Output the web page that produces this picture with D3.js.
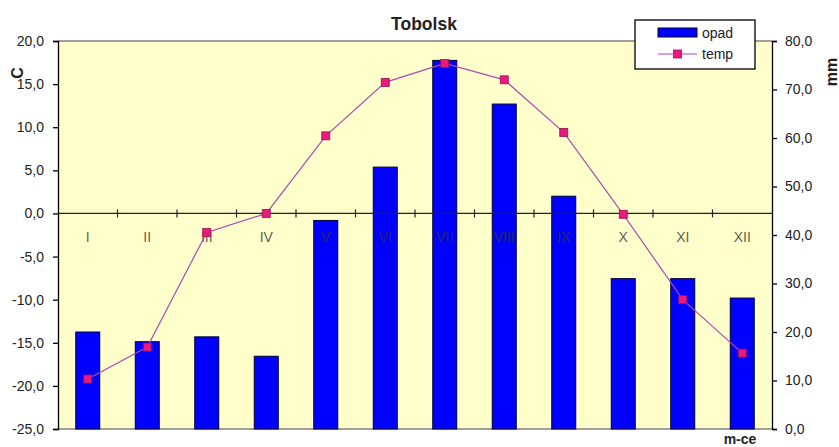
<!DOCTYPE html>
<html><head><meta charset="utf-8">
<script src="https://cdn.jsdelivr.net/npm/d3@7"></script>
<style>body{margin:0;background:#fff}svg{display:block;font-family:Arial,"Liberation Sans",sans-serif}</style>
</head><body>
<svg id="c" width="839" height="447"></svg>
<script>
const months = ["I","II","III","IV","V","VI","VII","VIII","IX","X","XI","XII"];
const opad = [20, 18, 19, 15, 43, 54, 76, 67, 48, 31, 31, 27];
const temp = [-19.2, -15.5, -2.2, 0.0, 9.0, 15.2, 17.4, 15.5, 9.4, -0.1, -10.0, -16.2];
const leftTicks = [20,15,10,5,0,-5,-10,-15,-20,-25];
const rightTicks = [0,10,20,30,40,50,60,70,80];

const svg = d3.select("#c");
const L = 58, R = 772, T = 41, B = 429;
const xb = d3.scaleBand().domain(months).range([L, R]);
const yL = d3.scaleLinear().domain([-25, 20]).range([B, T]);
const yR = d3.scaleLinear().domain([0, 80]).range([B, T]);
const fmt = v => d3.format(".1f")(v).replace(".", ",").replace("−","-");
const FF = "Arial,'Liberation Sans',sans-serif";

svg.append("rect").attr("x", L).attr("y", T).attr("width", R - L).attr("height", B - T).attr("fill", "#ffffcc");
svg.append("line").attr("x1", L).attr("x2", R).attr("y1", T).attr("y2", T).attr("stroke", "#808080").attr("stroke-width", 1.3);
svg.append("line").attr("x1", L).attr("x2", R).attr("y1", B).attr("y2", B).attr("stroke", "#808080").attr("stroke-width", 1.3);

// category labels (behind bars' overlay)
const y0 = yL(0);
// bars
svg.append("g").selectAll("rect").data(opad).join("rect")
  .attr("x", (d, i) => xb(months[i]) + xb.bandwidth() / 2 - 12)
  .attr("width", 24)
  .attr("y", d => yR(d)).attr("height", d => yR(0) - yR(d))
  .attr("fill", "#0000ff").attr("stroke", "#000033").attr("stroke-width", 1);

svg.append("g").selectAll("text").data(months).join("text")
  .attr("x", d => xb(d) + xb.bandwidth() / 2).attr("y", y0 + 29)
  .attr("text-anchor", "middle").attr("font-size", 14).attr("fill", "#333").attr("fill-opacity", 0.8).text(d => d);

// zero line with ticks
svg.append("line").attr("x1", L).attr("x2", R).attr("y1", y0).attr("y2", y0).attr("stroke", "#222").attr("stroke-width", 1.3);
svg.append("g").selectAll("line").data(months.slice(1)).join("line")
  .attr("x1", d => xb(d)).attr("x2", d => xb(d)).attr("y1", y0 - 4).attr("y2", y0 + 4).attr("stroke", "#222").attr("stroke-width", 1.2);

// line
const line = d3.line().x((d, i) => xb(months[i]) + xb.bandwidth() / 2).y(d => yL(d));
svg.append("path").datum(temp).attr("d", line).attr("fill", "none").attr("stroke", "#b04ab0").attr("stroke-width", 1.2);
svg.append("g").selectAll("rect").data(temp).join("rect")
  .attr("x", (d, i) => xb(months[i]) + xb.bandwidth() / 2 - 4).attr("y", d => yL(d) - 4)
  .attr("width", 8).attr("height", 8).attr("fill", "#e8197f").attr("stroke", "#a0104f").attr("stroke-width", 0.8);

// left axis
const gl = svg.append("g").attr("transform", `translate(${L},0)`)
  .call(d3.axisLeft(yL).tickValues(leftTicks).tickFormat(fmt).tickSize(5).tickPadding(9));
gl.select(".domain").attr("stroke", "#000").attr("stroke-width", 1.3);
gl.selectAll(".tick line").attr("stroke", "#000").attr("stroke-width", 1.3);
gl.selectAll("text").attr("font-size", 14).attr("fill", "#222").attr("font-family", FF);

// right axis
const gr = svg.append("g").attr("transform", `translate(${R},0)`)
  .call(d3.axisRight(yR).tickValues(rightTicks).tickFormat(fmt).tickSize(5).tickPadding(8));
gr.select(".domain").attr("stroke", "#000").attr("stroke-width", 1.3);
gr.selectAll(".tick line").attr("stroke", "#000").attr("stroke-width", 1.3);
gr.selectAll("text").attr("font-size", 14).attr("fill", "#222").attr("font-family", FF);

// title & labels
svg.append("text").attr("x", 424).attr("y", 30).attr("text-anchor", "middle").attr("font-size", 17.5).attr("font-weight", "bold").attr("fill", "#222").text("Tobolsk");
svg.append("text").attr("transform", "translate(23,73) rotate(-90)").attr("text-anchor", "middle").attr("font-size", 16).attr("font-weight", "bold").attr("fill", "#222").text("C");
svg.append("text").attr("transform", "translate(837,72) rotate(-90)").attr("text-anchor", "middle").attr("font-size", 16).attr("font-weight", "bold").attr("fill", "#222").text("mm");
svg.append("text").attr("x", 740).attr("y", 444).attr("text-anchor", "middle").attr("font-size", 14).attr("font-weight", "bold").attr("fill", "#222").text("m-ce");

// legend
const lg = svg.append("g");
lg.append("rect").attr("x", 635).attr("y", 20).attr("width", 120).attr("height", 49).attr("fill", "#fff").attr("stroke", "#000").attr("stroke-width", 1.3);
lg.append("rect").attr("x", 658).attr("y", 28).attr("width", 39).attr("height", 9).attr("fill", "#0000ff").attr("stroke", "#000033");
lg.append("text").attr("x", 702).attr("y", 38).attr("font-size", 14).attr("fill", "#222").text("opad");
lg.append("line").attr("x1", 658).attr("x2", 697).attr("y1", 54).attr("y2", 54).attr("stroke", "#b04ab0").attr("stroke-width", 1.2);
lg.append("rect").attr("x", 673.5).attr("y", 50).attr("width", 8).attr("height", 8).attr("fill", "#e8197f").attr("stroke", "#a0104f").attr("stroke-width", 0.8);
lg.append("text").attr("x", 702).attr("y", 59).attr("font-size", 14).attr("fill", "#222").text("temp");
</script>
</body></html>
